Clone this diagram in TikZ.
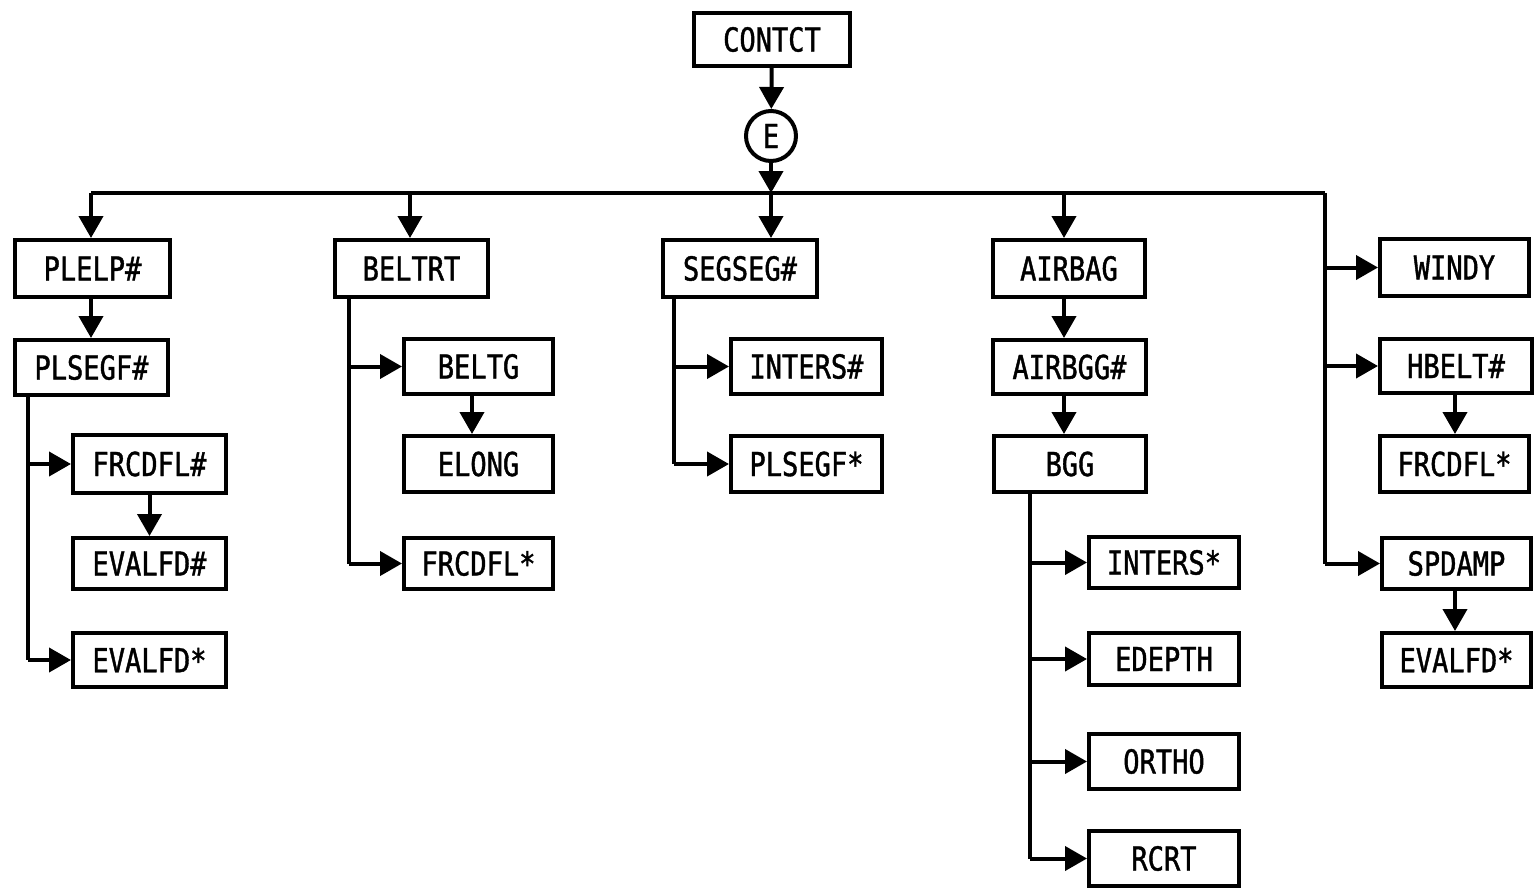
\documentclass[tikz,border=0pt]{standalone}
\usepackage{fontspec}
\setmainfont{DejaVu Sans Mono}[FakeStretch=0.82,FakeBold=1.2]
\usetikzlibrary{arrows.meta}
\tikzset{
  box/.style={draw, line width=2pt, inner sep=0pt, font=\fontsize{16.5}{18}\selectfont},
  lnk/.style={line width=2pt},
  arr/.style={line width=2pt, -{Triangle[length=11pt,width=12pt]}},
}
% box from corner (x1,y1) to (x2,y2), in pixel-like units
\newcommand{\modbox}[6]{%
  \node[box, minimum width={(#4-#2-4)*0.5pt}, minimum height={(#5-#3-4)*0.5pt}]
    (#1) at ({(#2+#4)/2},{(#3+#5)/2}) {#6};}
\begin{document}
\begin{tikzpicture}[x=0.5pt,y=-0.5pt]
\useasboundingbox (0,0) rectangle (1538,890);

% top of the tree
\modbox{contct}{692}{11}{852}{68}{CONTCT}
\node[box, circle, minimum size=25pt] (e) at (771,136) {E};

% first level
\modbox{plelp}{13}{238}{172}{299}{PLELP\#}
\modbox{beltrt}{333}{238}{490}{299}{BELTRT}
\modbox{segseg}{661}{238}{819}{299}{SEGSEG\#}
\modbox{airbag}{991}{238}{1147}{299}{AIRBAG}
\modbox{windy}{1378}{237}{1531}{298}{WINDY}

% PLELP# group
\modbox{plsegf}{13}{338}{170}{397}{PLSEGF\#}
\modbox{frcdflA}{71}{433}{228}{495}{FRCDFL\#}
\modbox{evalfdA}{71}{536}{228}{591}{EVALFD\#}
\modbox{evalfdB}{71}{631}{228}{689}{EVALFD*}

% BELTRT group
\modbox{beltg}{402}{337}{555}{396}{BELTG}
\modbox{elong}{402}{434}{555}{494}{ELONG}
\modbox{frcdflB}{402}{536}{555}{591}{FRCDFL*}

% SEGSEG# group
\modbox{intersA}{729}{337}{884}{396}{INTERS\#}
\modbox{plsegfB}{729}{434}{884}{494}{PLSEGF*}

% AIRBAG group
\modbox{airbgg}{991}{338}{1148}{396}{AIRBGG\#}
\modbox{bgg}{992}{434}{1148}{494}{BGG}
\modbox{intersB}{1087}{535}{1241}{590}{INTERS*}
\modbox{edepth}{1087}{631}{1241}{687}{EDEPTH}
\modbox{ortho}{1087}{732}{1241}{791}{ORTHO}
\modbox{rcrt}{1087}{829}{1241}{888}{RCRT}

% WINDY group
\modbox{hbelt}{1378}{337}{1534}{395}{HBELT\#}
\modbox{frcdflC}{1378}{434}{1531}{494}{FRCDFL*}
\modbox{spdamp}{1380}{536}{1533}{591}{SPDAMP}
\modbox{evalfdC}{1380}{631}{1533}{689}{EVALFD*}

% bus and branch lines
\coordinate (busL) at (91,193);
\coordinate (busR) at (1325,193);
\coordinate (busC) at (771,193);
\coordinate (trA) at (28,0);
\coordinate (trB) at (349,0);
\coordinate (trC) at (674,0);
\coordinate (trD) at (1030,0);

\draw[arr] (contct) -- (e);
\draw[arr] (e) -- (busC);
\draw[lnk] (busL) -- (busR);
\draw[lnk] (busR) -- (busR |- spdamp.west);

\draw[arr] (busL) -- (busL |- plelp.north);
\draw[arr] (busL -| 410,0) -- (410,238);
\draw[arr] (busC) -- (busC |- segseg.north);
\draw[arr] (busL -| 1064,0) -- (1064,238);
\draw[arr] (busR |- windy.west) -- (windy.west);
\draw[arr] (busR |- hbelt.west) -- (hbelt.west);
\draw[arr] (busR |- spdamp.west) -- (spdamp.west);

% PLELP# group
\draw[arr] (91,299) -- (91,338);
\draw[lnk] (trA |- plsegf.south) -- (trA |- evalfdB.west);
\draw[arr] (trA |- frcdflA.west) -- (frcdflA.west);
\draw[arr] (trA |- evalfdB.west) -- (evalfdB.west);
\draw[arr] (frcdflA) -- (evalfdA);

% BELTRT group
\draw[lnk] (trB |- beltrt.south) -- (trB |- frcdflB.west);
\draw[arr] (trB |- beltg.west) -- (beltg.west);
\draw[arr] (trB |- frcdflB.west) -- (frcdflB.west);
\draw[arr] (472,396) -- (472,434);

% SEGSEG# group
\draw[lnk] (trC |- segseg.south) -- (trC |- plsegfB.west);
\draw[arr] (trC |- intersA.west) -- (intersA.west);
\draw[arr] (trC |- plsegfB.west) -- (plsegfB.west);

% AIRBAG group
\draw[arr] (1064,299) -- (1064,338);
\draw[arr] (1064,396) -- (1064,434);
\draw[lnk] (trD |- bgg.south) -- (trD |- rcrt.west);
\draw[arr] (trD |- intersB.west) -- (intersB.west);
\draw[arr] (trD |- edepth.west) -- (edepth.west);
\draw[arr] (trD |- ortho.west) -- (ortho.west);
\draw[arr] (trD |- rcrt.west) -- (rcrt.west);

% WINDY group
\draw[arr] (1455,395) -- (1455,434);
\draw[arr] (1455,591) -- (1455,631);
\end{tikzpicture}
\end{document}
